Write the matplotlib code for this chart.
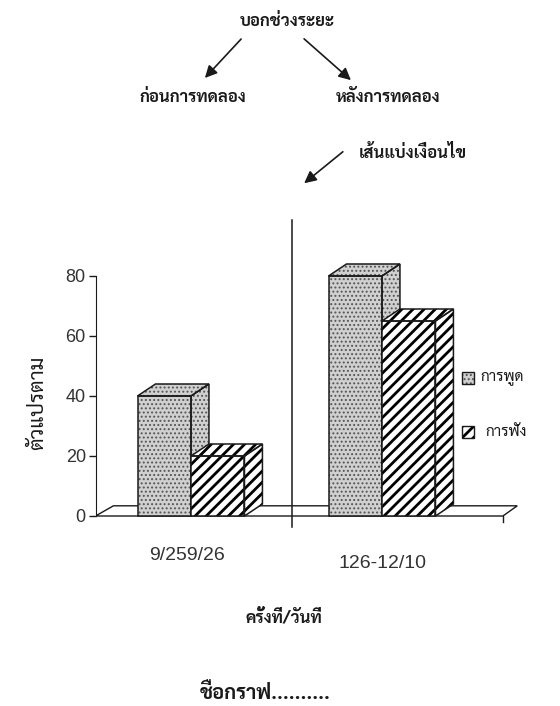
import numpy as np
import matplotlib
matplotlib.use("Agg")
import matplotlib.pyplot as plt
from matplotlib.patches import Polygon, Rectangle, FancyArrowPatch

plt.rcParams["font.family"] = ["Liberation Sans", "DejaVu Sans"]
THAI = ["Sarabun", "DejaVu Sans"]

groups = ["9/259/26", "126-12/10"]
series = ["การพูด", "การฟัง"]
speak = [40, 80]
listen = [20, 65]
yticks = [0, 20, 40, 60, 80]

W, H = 560, 706
fig = plt.figure(figsize=(W / 100, H / 100), dpi=100)


def px(x, y):
    return x / W, 1 - y / H


ax = fig.add_axes([95.5 / W, 1 - 525 / H, 439.3 / W, 279 / H])
ax.set_xlim(-0.5, 1.8)
ax.set_ylim(-3, 90)

INK = "#1a1a1a"
bar_w = 0.28
dx, dy = 0.094, 4.0  # depth of the 3D extrusion

styles = [
    dict(face="#d0d0d0", hatch="....", hcol="#555555", hlw=0.9),
    dict(face="white", hatch="///", hcol="black", hlw=2.0),
]


def face(pts, st, z):
    fill = Polygon(pts, closed=True, facecolor=st["face"], edgecolor=st["hcol"],
                   hatch=st["hatch"], linewidth=0, zorder=z)
    if hasattr(fill, "set_hatch_linewidth"):
        fill.set_hatch_linewidth(st["hlw"])
    ax.add_patch(fill)
    ax.add_patch(Polygon(pts, closed=True, fill=False, edgecolor=INK,
                         linewidth=1.1, zorder=z + 0.1))


def bar3d(x, v, st, z):
    face([(x, 0), (x + bar_w, 0), (x + bar_w, v), (x, v)], st, z)
    face([(x, v), (x + bar_w, v), (x + bar_w + dx, v + dy), (x + dx, v + dy)], st, z)
    face([(x + bar_w, 0), (x + bar_w + dx, dy), (x + bar_w + dx, v + dy),
          (x + bar_w, v)], st, z)


# floor
x0, x1 = -0.5, 1.633
ax.add_patch(Polygon([(x0, 0), (x1, 0), (x1 + dx * 0.8, dy * 0.85),
                      (x0 + dx, dy * 0.85)], closed=True, facecolor="white",
                     edgecolor=INK, linewidth=1.0, zorder=1))
ax.plot([x1, x1], [0, -2], color=INK, lw=1.0, zorder=1)

for i in range(len(groups)):
    bar3d(i - bar_w, speak[i], styles[0], 2 + i * 4)
    bar3d(i, listen[i], styles[1], 4 + i * 4)

# divider between before / after
ax.plot([0.53, 0.53], [-3.5, 98.7], color=INK, lw=1.1, clip_on=False, zorder=10)

# y axis
for s in ["top", "right", "bottom"]:
    ax.spines[s].set_visible(False)
ax.spines["left"].set_bounds(0, 80)
ax.spines["left"].set_color(INK)
ax.set_yticks(yticks)
ax.set_xticks([])
ax.tick_params(axis="y", direction="out", length=5, width=1, colors=INK,
               labelsize=13, pad=2)
for lab in ax.get_yticklabels():
    lab.set_color("#333333")

# category labels
ax.text(-0.02, -13, groups[0], ha="center", va="center", fontsize=14, color="#333333")
ax.text(1.0, -15.7, groups[1], ha="center", va="center", fontsize=14, color="#333333")


def tt(x, y, s, size=12, **kw):
    fig.text(*px(x, y), s, ha="center", va="center", fontsize=size,
             family=THAI, weight="bold", color=INK, **kw)


def arrow(x0, y0, x1, y1):
    fig.add_artist(FancyArrowPatch(
        px(x0, y0), px(x1, y1), transform=fig.transFigure,
        arrowstyle="-|>,head_length=0.6,head_width=0.3", mutation_scale=12,
        color=INK, lw=1.2))


tt(287, 22, "บอกช่วงระยะ")
arrow(243, 37, 203, 80)
arrow(302, 37, 353, 82)
tt(193, 98, "ก่อนการทดลอง")
tt(388, 97, "หลังการทดลอง")
tt(413, 153, "เส้นแบ่งเงื่อนไข")
arrow(345, 150, 302, 185)

fig.text(*px(38, 403), "ตัวแปรตาม", rotation=90, ha="center", va="center",
         fontsize=15, family=THAI, color=INK)
tt(284, 618, "ครั้งที่/วันที่")
tt(265, 693, "ชื่อกราฟ..........", size=14.5)

# legend
for k, (yc, st) in enumerate(zip([378, 432], styles)):
    fx, fy = px(462, yc + 6)
    r = Rectangle((fx, fy), 12 / W, 12 / H, transform=fig.transFigure,
                  facecolor=st["face"], edgecolor=st["hcol"], hatch=st["hatch"],
                  linewidth=0)
    if hasattr(r, "set_hatch_linewidth"):
        r.set_hatch_linewidth(st["hlw"])
    fig.add_artist(r)
    fig.add_artist(Rectangle((fx, fy), 12 / W, 12 / H, transform=fig.transFigure,
                             fill=False, edgecolor=INK, linewidth=1.0))
    fig.text(*px(480 if k == 0 else 485, yc), series[k], ha="left", va="center",
             fontsize=11, family=THAI, color=INK)

plt.savefig("out.png", dpi=100)
